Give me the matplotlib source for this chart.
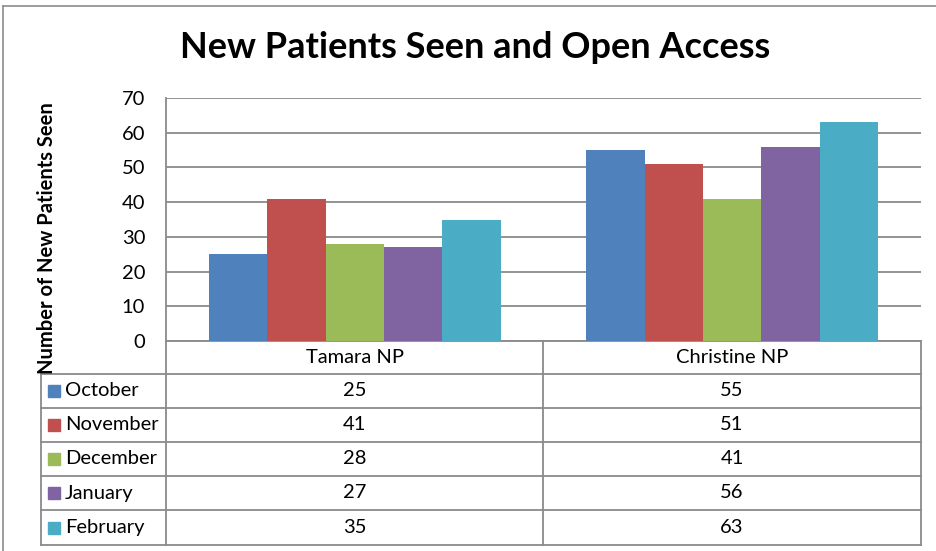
import matplotlib.pyplot as plt
import numpy as np

providers = ['Tamara NP', 'Christine NP']
months = ['October', 'November', 'December', 'January', 'February']
values = {
    'October': [25, 55],
    'November': [41, 51],
    'December': [28, 41],
    'January': [27, 56],
    'February': [35, 63],
}
colors = ['#4F81BD', '#C0504D', '#9BBB59', '#8064A2', '#4BACC6']
yticks = [0, 10, 20, 30, 40, 50, 60, 70]

FONT = 'Lato'
W, H = 936, 551
line_col = '#8A8A8A'

fig = plt.figure(figsize=(W / 100, H / 100), dpi=100)

# overlay axes in pixel coordinates (y downwards) for borders and table
ov = fig.add_axes([0, 0, 1, 1])
ov.set_xlim(0, W)
ov.set_ylim(H, 0)
ov.axis('off')

# plot area
L, R, T, B = 166, 921, 98, 341
ax = fig.add_axes([L / W, 1 - B / H, (R - L) / W, (B - T) / H])
x = np.arange(len(providers))
bw = 0.1547
for i, m in enumerate(months):
    ax.bar(x + (i - 2) * bw, values[m], width=bw, color=colors[i], zorder=3)

ax.set_xlim(-0.5, 1.5)
ax.set_ylim(0, 70)
ax.set_yticks(yticks)
ax.set_yticklabels([str(t) for t in yticks], fontfamily=FONT, fontsize=14.5)
ax.tick_params(axis='y', length=0, pad=15)
ax.set_xticks([])
ax.grid(True, axis='y', color=line_col, linewidth=1.3, zorder=0)
for s in ['top', 'right', 'bottom', 'left']:
    ax.spines[s].set_visible(False)
ax.patch.set_alpha(0)

# outer chart border
ov.plot([3, 3], [6, H], color='#8C8C8C', lw=1.2)
ov.plot([3, W], [6, 6], color='#8C8C8C', lw=1.2)

# title and y label
ov.text(475, 47, 'New Patients Seen and Open Access', ha='center', va='center',
        fontfamily=FONT, fontweight='bold', fontsize=26)
ov.text(47, 238, 'Number of New Patients Seen', ha='center', va='center',
        rotation=90, fontfamily=FONT, fontweight='bold', fontsize=14.5)

# data table
rows = [341, 374, 408, 442, 476, 510, 545]
mid = 543
lw = 1.3
ov.plot([L, L], [T, rows[-1]], color=line_col, lw=lw)
ov.plot([R, R], [rows[0], rows[-1]], color=line_col, lw=lw)
ov.plot([mid, mid], [rows[0], rows[-1]], color=line_col, lw=lw)
ov.plot([41, 41], [rows[1], rows[-1]], color=line_col, lw=lw)
ov.plot([L, R], [rows[0], rows[0]], color=line_col, lw=lw)
for yy in rows[1:]:
    ov.plot([41, R], [yy, yy], color=line_col, lw=lw)

centers = [(L + mid) / 2, (mid + R) / 2]
for j, p in enumerate(providers):
    ov.text(centers[j], (rows[0] + rows[1]) / 2, p, ha='center', va='center',
            fontfamily=FONT, fontsize=14.5)
for i, m in enumerate(months):
    yc = (rows[i + 1] + rows[i + 2]) / 2
    ov.add_patch(plt.Rectangle((48, yc - 6), 12, 12, color=colors[i]))
    ov.text(65, yc, m, ha='left', va='center', fontfamily=FONT, fontsize=14.5)
    for j in range(len(providers)):
        ov.text(centers[j], yc, str(values[m][j]), ha='center', va='center',
                fontfamily=FONT, fontsize=14.5)

fig.savefig('out.png', dpi=100)
